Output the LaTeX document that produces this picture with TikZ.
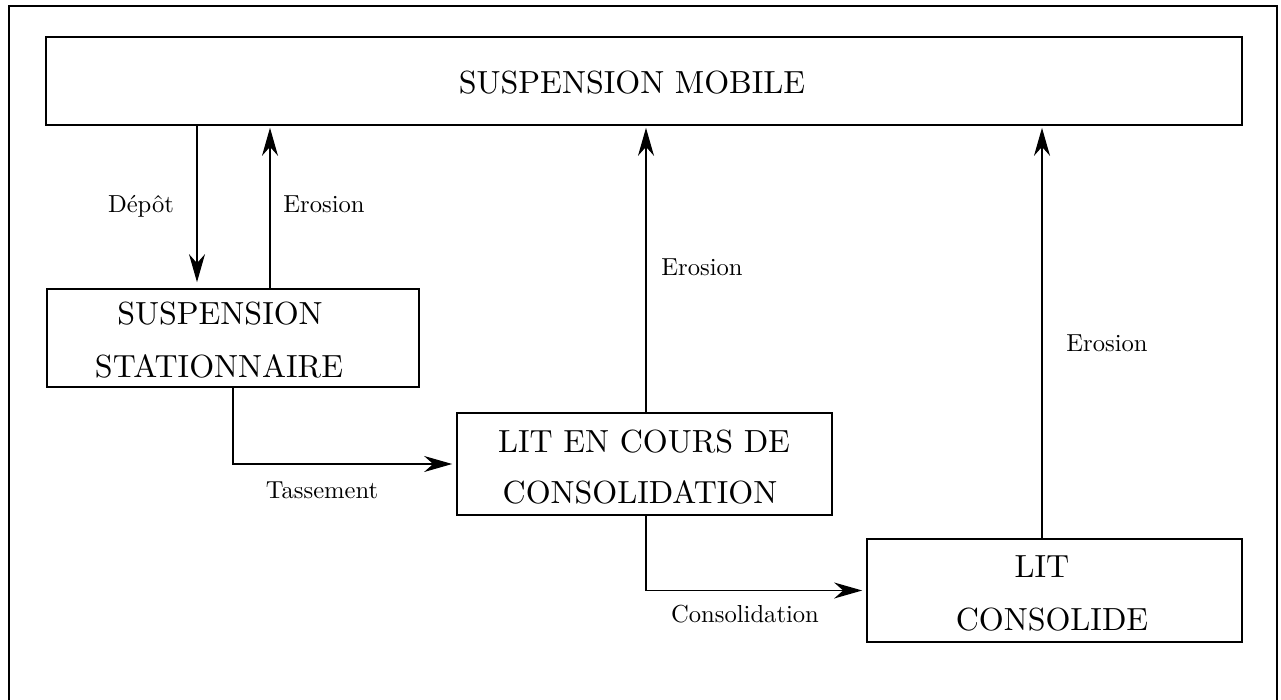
\documentclass[tikz,border=0pt]{standalone}
\usepackage{fontspec}
\newfontfamily\lmten{lmroman10-regular}[Extension=.otf]
\usetikzlibrary{arrows.meta}
\begin{document}
\begin{tikzpicture}[x=0.5pt,y=-0.5pt,
  box/.style={draw, line width=0.85pt, rectangle, inner sep=0pt},
  btxt/.style={font=\lmten\fontsize{16}{19}\selectfont, anchor=base, inner sep=0pt},
  lbl/.style={font=\lmten\fontsize{12.3}{15}\selectfont, anchor=base, inner sep=0pt},
  arr/.style={line width=0.85pt, -{Stealth[length=14pt,width=8pt,inset=4.5pt]}}]
\clip (0,0) rectangle (1281,700);
\fill[white] (0,0) rectangle (1281,700);
\draw[line width=1.35pt] (9,6) rectangle (1277,730);
% boxes
\node[box, minimum width=598pt, minimum height=44pt] (top) at (644,81) {};
\node[box, minimum width=186pt, minimum height=49pt] (ss) at (233,338) {};
\node[box, minimum width=187.5pt, minimum height=51pt] (lec) at (644.5,464) {};
\node[box, minimum width=187.5pt, minimum height=51.5pt] (lit) at (1054.5,590.5) {};
% box texts
\node[btxt] (topT) at (632,94) {SUSPENSION MOBILE};
\node[btxt] (ssT1) at (220,325) {SUSPENSION};
\node[btxt] (ssT2) at (219,378) {STATIONNAIRE};
\node[btxt] (lecT1) at (644,452) {LIT EN COURS DE};
\node[btxt] (lecT2) at (640,503) {CONSOLIDATION};
\node[btxt] (litT1) at (1042,577) {LIT};
\node[btxt] (litT2) at (1052,630) {CONSOLIDE};
% labels
\node[lbl] (lDep) at (141,213) {Dépôt};
\node[lbl] (lEr1) at (324,213) {Erosion};
\node[lbl] (lEr2) at (702,276) {Erosion};
\node[lbl] (lEr3) at (1107,352) {Erosion};
\node[lbl] (lTas) at (322,498) {Tassement};
\node[lbl] (lCon) at (745,622) {Consolidation};
% connector x positions
\coordinate (xd) at (197,0);
\coordinate (xe1) at (270,0);
\coordinate (xe2) at (646,0);
\coordinate (xe3) at (1042,0);
% connectors
\draw[arr, shorten >=3pt] (top.south -| xd) -- (ss.north -| xd);
\draw[arr, shorten >=1pt] (ss.north -| xe1) -- (top.south -| xe1);
\draw[arr, shorten >=1pt] (lec.north -| xe2) -- (top.south -| xe2);
\draw[arr, shorten >=1pt] (lit.north -| xe3) -- (top.south -| xe3);
\draw[arr, shorten >=2pt] (ss.south) |- (lec.west);
\draw[arr, shorten >=2pt] (lec.south -| xe2) |- (lit.west);
\end{tikzpicture}
\end{document}
